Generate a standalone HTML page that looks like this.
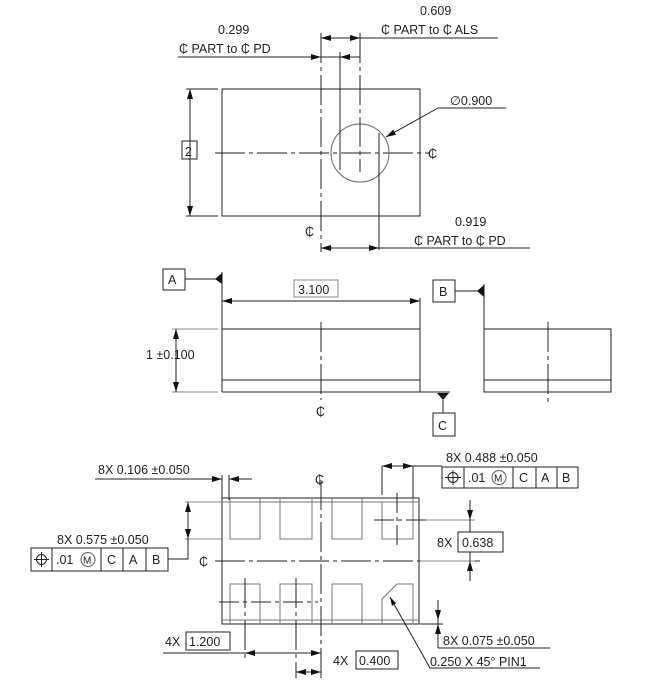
<!DOCTYPE html>
<html><head><meta charset="utf-8"><style>
body{margin:0;background:#fff}
svg{display:block;font-family:"Liberation Sans","DejaVu Sans",sans-serif}
text{font-size:12.5px;fill:#222}
</style></head><body>
<svg width="656" height="681" viewBox="0 0 656 681" xmlns="http://www.w3.org/2000/svg">
<defs>
<marker id="a" viewBox="0 0 10 6" refX="10" refY="3" markerWidth="10" markerHeight="6" orient="auto-start-reverse" markerUnits="userSpaceOnUse"><path d="M0,0L10,3L0,6z" fill="#111"/></marker>
</defs>
<g stroke="#222" stroke-width="1" fill="none">
<!-- TOP VIEW -->
<rect x="222" y="89" width="198" height="127"/>
<line x1="215" y1="153" x2="430" y2="153" stroke-dasharray="30,4,4,4"/>
<circle cx="360" cy="153" r="29" stroke="#666"/>
<line x1="321" y1="33" x2="321" y2="252" stroke-dasharray="30,4,4,4"/>
<line x1="340" y1="52" x2="340" y2="170"/>
<line x1="360" y1="33" x2="360" y2="172" stroke-dasharray="30,4,4,4"/>
<line x1="379" y1="133" x2="379" y2="250"/>
<line x1="321" y1="38" x2="360" y2="38" marker-start="url(#a)" marker-end="url(#a)"/>
<line x1="360" y1="38" x2="498" y2="38"/>
<line x1="178" y1="57" x2="321" y2="57" marker-end="url(#a)"/>
<line x1="321" y1="57" x2="360" y2="57"/>
<line x1="360" y1="57" x2="340" y2="57" marker-end="url(#a)"/>
<line x1="506" y1="108" x2="438" y2="108"/>
<line x1="438" y1="108" x2="386" y2="137" marker-end="url(#a)"/>
<line x1="186" y1="89" x2="218" y2="89"/><line x1="186" y1="216" x2="218" y2="216"/>
<line x1="190" y1="89" x2="190" y2="216" marker-start="url(#a)" marker-end="url(#a)"/>
<rect x="182" y="141" width="15" height="18"/>
<line x1="321" y1="248" x2="379" y2="248" marker-start="url(#a)" marker-end="url(#a)"/>
<line x1="379" y1="248" x2="530" y2="248"/>
<!-- SIDE VIEW -->
<rect x="163" y="269" width="22" height="21"/>
<line x1="185" y1="279" x2="216" y2="279"/>
<line x1="222" y1="272" x2="222" y2="392"/>
<rect x="294" y="280" width="44" height="17" stroke="#888"/>
<line x1="222" y1="301" x2="420" y2="301" marker-start="url(#a)" marker-end="url(#a)"/>
<line x1="420" y1="298" x2="420" y2="392"/>
<line x1="222" y1="329" x2="420" y2="329"/>
<line x1="222" y1="380" x2="420" y2="380"/>
<line x1="222" y1="392" x2="450" y2="392"/>
<line x1="321" y1="322" x2="321" y2="400" stroke-dasharray="30,4,4,4"/>
<line x1="172" y1="329" x2="218" y2="329" stroke="#888"/><line x1="172" y1="392" x2="218" y2="392" stroke="#888"/>
<line x1="176" y1="329" x2="176" y2="392" marker-start="url(#a)" marker-end="url(#a)"/>
<line x1="443" y1="400" x2="443" y2="413"/>
<rect x="433" y="413" width="22" height="23"/>
<rect x="433" y="280" width="22" height="22"/>
<line x1="455" y1="291" x2="478" y2="291"/>
<line x1="484" y1="284" x2="484" y2="392"/>
<rect x="484" y="329" width="127" height="63"/>
<line x1="484" y1="380" x2="611" y2="380"/>
<line x1="548" y1="322" x2="548" y2="405" stroke-dasharray="30,4,4,4"/>
</g>
<g fill="#111">
<path d="M222,273 L215,279 L222,284z"/>
<path d="M484,285 L477,291 L484,297z"/>
<path d="M437,393 L449,393 L443,400z"/>
</g>
<!-- BOTTOM VIEW -->
<g stroke="#222" stroke-width="1" fill="none">
<rect x="222" y="498" width="197" height="126"/>
<g stroke="#777">
<line x1="222" y1="502" x2="419" y2="502"/>
<line x1="222" y1="620" x2="419" y2="620"/>
<rect x="230" y="502" width="30" height="37"/><rect x="280" y="502" width="32" height="37"/>
<rect x="332" y="502" width="30" height="37"/><rect x="382" y="502" width="31" height="37"/>
<rect x="230" y="584" width="30" height="36"/><rect x="280" y="584" width="32" height="36"/>
<rect x="332" y="584" width="30" height="36"/>
<path d="M382,620 L382,599 L397,584 L413,584 L413,620"/>
<line x1="230" y1="498" x2="230" y2="502"/><line x1="260" y1="498" x2="260" y2="502"/>
<line x1="280" y1="498" x2="280" y2="502"/><line x1="312" y1="498" x2="312" y2="502"/>
<line x1="332" y1="498" x2="332" y2="502"/><line x1="362" y1="498" x2="362" y2="502"/>
<line x1="413" y1="498" x2="413" y2="502"/>
<line x1="230" y1="620" x2="230" y2="624"/><line x1="260" y1="620" x2="260" y2="624"/>
<line x1="280" y1="620" x2="280" y2="624"/><line x1="312" y1="620" x2="312" y2="624"/>
<line x1="332" y1="620" x2="332" y2="624"/><line x1="362" y1="620" x2="362" y2="624"/>
<line x1="382" y1="620" x2="382" y2="624"/><line x1="413" y1="620" x2="413" y2="624"/>
</g>
<line x1="215" y1="561" x2="480" y2="561" stroke-dasharray="30,4,4,4"/>
<line x1="321" y1="480" x2="321" y2="680" stroke-dasharray="30,4,4,4"/>
<line x1="219" y1="602" x2="318" y2="602" stroke-dasharray="20,4,4,4"/>
<line x1="245" y1="578" x2="245" y2="660" stroke-dasharray="30,4,4,4"/>
<line x1="296" y1="578" x2="296" y2="678" stroke-dasharray="30,4,4,4"/>
<line x1="374" y1="520" x2="426" y2="520" stroke-dasharray="20,4,4,4"/>
<line x1="397" y1="493" x2="397" y2="548" stroke-dasharray="20,4,4,4"/>
<line x1="426" y1="520" x2="475" y2="520" stroke="#888"/>
<line x1="420" y1="561" x2="475" y2="561" stroke="#888"/>
<line x1="470" y1="500" x2="470" y2="520" marker-end="url(#a)"/>
<line x1="470" y1="520" x2="470" y2="532"/>
<line x1="470" y1="552" x2="470" y2="561"/>
<line x1="470" y1="581" x2="470" y2="561" marker-end="url(#a)"/>
<rect x="458" y="532" width="45" height="20"/>
<line x1="163" y1="653" x2="245" y2="653"/>
<line x1="245" y1="653" x2="321" y2="653" marker-start="url(#a)" marker-end="url(#a)"/>
<rect x="186" y="632" width="44" height="18"/>
<line x1="296" y1="672" x2="321" y2="672" marker-start="url(#a)" marker-end="url(#a)"/>
<rect x="356" y="651" width="42" height="18"/>
<line x1="95" y1="479" x2="222" y2="479" marker-end="url(#a)"/>
<line x1="252" y1="479" x2="229" y2="479" marker-end="url(#a)"/>
<line x1="222" y1="475" x2="222" y2="498"/><line x1="229" y1="475" x2="229" y2="500"/>
<line x1="185" y1="502" x2="222" y2="502" stroke="#888"/><line x1="185" y1="539" x2="222" y2="539" stroke="#888"/>
<line x1="188" y1="502" x2="188" y2="539" marker-start="url(#a)" marker-end="url(#a)"/>
<polyline points="188,539 188,559 168,559"/>
<rect x="31" y="548" width="137" height="23"/>
<line x1="52" y1="548" x2="52" y2="571"/><line x1="101" y1="548" x2="101" y2="571"/>
<line x1="123" y1="548" x2="123" y2="571"/><line x1="146" y1="548" x2="146" y2="571"/>
<line x1="382" y1="466" x2="382" y2="495"/><line x1="413" y1="466" x2="413" y2="498"/>
<line x1="382" y1="466" x2="413" y2="466" marker-start="url(#a)" marker-end="url(#a)"/>
<line x1="413" y1="466" x2="442" y2="466"/>
<rect x="442" y="467" width="136" height="21"/>
<line x1="464" y1="467" x2="464" y2="488"/><line x1="513" y1="467" x2="513" y2="488"/>
<line x1="536" y1="467" x2="536" y2="488"/><line x1="557" y1="467" x2="557" y2="488"/>
<line x1="420" y1="624" x2="443" y2="624"/>
<line x1="438" y1="600" x2="438" y2="620" marker-end="url(#a)"/>
<line x1="438" y1="620" x2="438" y2="624"/>
<line x1="438" y1="648" x2="438" y2="624" marker-end="url(#a)"/>
<line x1="438" y1="648" x2="550" y2="648"/>
<polyline points="540,668 430,668 390,597" />
<circle cx="41.5" cy="559.5" r="5"/><line x1="41.5" y1="552" x2="41.5" y2="567"/><line x1="34" y1="559.5" x2="49" y2="559.5"/>
<circle cx="88" cy="559.5" r="7" stroke="#555"/>
<circle cx="453" cy="477.5" r="5"/><line x1="453" y1="470" x2="453" y2="485"/><line x1="445" y1="477.5" x2="461" y2="477.5"/>
<circle cx="499" cy="477.5" r="7" stroke="#555"/>
</g>
<path d="M390,597 L392,606 L396,603z" fill="#111"/>
<g>
<text x="420" y="15">0.609</text>
<text x="381" y="34">₵ PART to ₵ ALS</text>
<text x="218" y="34">0.299</text>
<text x="179" y="53">₵ PART to ₵ PD</text>
<text x="450" y="105">∅0.900</text>
<text x="428" y="158">₵</text>
<text x="185" y="156">2</text>
<text x="305" y="236">₵</text>
<text x="455" y="226">0.919</text>
<text x="414" y="245">₵ PART to ₵ PD</text>
<text x="168" y="284">A</text>
<text x="298" y="294">3.100</text>
<text x="146" y="359">1 ±0.100</text>
<text x="316" y="416">₵</text>
<text x="438" y="430">C</text>
<text x="439" y="296">B</text>
<text x="98" y="474">8X 0.106 ±0.050</text>
<text x="315" y="484">₵</text>
<text x="57" y="544">8X 0.575 ±0.050</text>
<text x="199" y="566">₵</text>
<text x="56" y="564">.01</text><text x="83" y="563.5" style="font-size:10px">M</text>
<text x="107" y="564">C</text><text x="129" y="564">A</text><text x="152" y="564">B</text>
<text x="446" y="462">8X 0.488 ±0.050</text>
<text x="468" y="482">.01</text><text x="494" y="481.5" style="font-size:10px">M</text>
<text x="519" y="482">C</text><text x="541" y="482">A</text><text x="562" y="482">B</text>
<text x="437" y="547">8X</text><text x="462" y="547">0.638</text>
<text x="165" y="646">4X</text><text x="189" y="646">1.200</text>
<text x="333" y="665">4X</text><text x="359" y="665">0.400</text>
<text x="443" y="645">8X 0.075 ±0.050</text>
<text x="430" y="666">0.250 X 45° PIN1</text>
</g>
</svg>
</body></html>
